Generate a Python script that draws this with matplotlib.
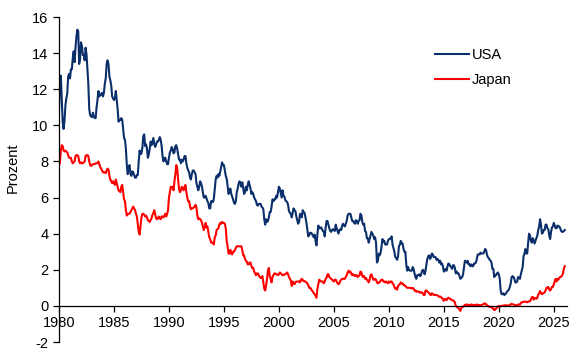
import matplotlib
matplotlib.use("Agg")
import matplotlib.pyplot as plt
import numpy as np

plt.rcParams['font.family'] = ['Liberation Sans', 'DejaVu Sans']
plt.rcParams['axes.unicode_minus'] = False

start_year = 1980
series_labels = ["USA", "Japan"]
x_ticks = [1980, 1985, 1990, 1995, 2000, 2005, 2010, 2015, 2020, 2025]
y_ticks = [-2, 0, 2, 4, 6, 8, 10, 12, 14, 16]
y_label = "Prozent"

# Monthly 10y yields, Jan 1980 .. Jan 2026
usa = [
    10.8, 12.4, 12.75, 11.5, 10.2, 9.8, 10.25, 11.1, 11.5, 11.75, 12.7, 12.85,
    12.6, 13.1, 13.1, 13.7, 14.1, 13.5, 14.3, 14.9, 15.3, 15.2, 13.4, 13.7,
    14.6, 14.4, 13.9, 13.9, 13.6, 14.3, 13.95, 13.1, 12.3, 10.9, 10.55, 10.5,
    10.45, 10.7, 10.5, 10.4, 10.4, 11.0, 11.4, 11.9, 11.6, 11.7, 11.7, 11.8,
    11.6, 11.8, 12.3, 12.6, 13.4, 13.6, 13.4, 12.7, 12.5, 12.2, 11.6, 11.5,
    11.4, 11.5, 11.9, 11.4, 10.9, 10.2, 10.3, 10.3, 10.4, 10.3, 9.8, 9.3,
    9.2, 8.7, 7.8, 7.3, 7.7, 7.8, 7.3, 7.2, 7.45, 7.4, 7.25, 7.1,
    7.1, 7.25, 7.25, 8.0, 8.6, 8.4, 8.45, 8.75, 9.4, 9.5, 8.85, 8.95,
    8.7, 8.2, 8.4, 8.7, 9.1, 8.9, 9.1, 9.3, 8.95, 8.8, 8.95, 9.1,
    9.1, 9.2, 9.35, 9.2, 8.85, 8.3, 8.0, 8.2, 8.2, 8.0, 7.85, 7.85,
    8.2, 8.5, 8.6, 8.8, 8.7, 8.45, 8.5, 8.85, 8.9, 8.7, 8.4, 8.1,
    8.1, 7.9, 8.1, 8.0, 8.1, 8.3, 8.3, 7.9, 7.65, 7.5, 7.4, 7.1,
    7.0, 7.3, 7.5, 7.5, 7.4, 7.3, 6.8, 6.6, 6.4, 6.6, 6.9, 6.8,
    6.6, 6.3, 6.0, 6.0, 6.1, 5.95, 5.8, 5.7, 5.4, 5.4, 5.8, 5.8,
    5.75, 5.95, 6.5, 7.0, 7.2, 7.1, 7.3, 7.2, 7.45, 7.7, 7.95, 7.8,
    7.8, 7.5, 7.2, 7.05, 6.65, 6.2, 6.3, 6.5, 6.2, 6.05, 5.9, 5.7,
    5.65, 5.8, 6.3, 6.5, 6.75, 6.9, 6.8, 6.6, 6.85, 6.55, 6.2, 6.3,
    6.6, 6.4, 6.7, 6.9, 6.7, 6.5, 6.2, 6.3, 6.2, 6.0, 5.9, 5.8,
    5.6, 5.55, 5.65, 5.65, 5.65, 5.5, 5.45, 5.35, 4.8, 4.5, 4.8, 4.65,
    4.7, 4.9, 5.2, 5.2, 5.5, 5.9, 5.8, 5.9, 5.9, 6.1, 6.0, 6.3,
    6.6, 6.5, 6.25, 6.0, 6.4, 6.1, 6.05, 5.85, 5.8, 5.75, 5.6, 5.25,
    5.15, 5.1, 4.9, 5.15, 5.4, 5.3, 5.25, 4.95, 4.75, 4.55, 4.65, 5.1,
    5.05, 4.9, 5.3, 5.2, 5.15, 4.9, 4.6, 4.25, 3.85, 3.9, 4.05, 4.05,
    4.0, 3.9, 3.8, 3.95, 3.6, 3.35, 3.95, 4.45, 4.3, 4.3, 4.35, 4.25,
    4.15, 4.1, 3.85, 4.35, 4.7, 4.7, 4.5, 4.3, 4.15, 4.1, 4.2, 4.25,
    4.2, 4.15, 4.5, 4.3, 4.15, 4.0, 4.2, 4.25, 4.2, 4.45, 4.55, 4.45,
    4.4, 4.55, 4.7, 5.0, 5.1, 5.1, 5.1, 4.9, 4.7, 4.7, 4.6, 4.55,
    4.75, 4.7, 4.55, 4.7, 4.75, 5.1, 5.0, 4.65, 4.5, 4.55, 4.15, 4.1,
    3.75, 3.75, 3.5, 3.7, 3.9, 4.1, 4.0, 3.9, 3.7, 3.8, 3.5, 2.4,
    2.5, 2.9, 2.8, 2.95, 3.3, 3.7, 3.55, 3.6, 3.4, 3.4, 3.4, 3.6,
    3.7, 3.7, 3.75, 3.85, 3.4, 3.2, 3.0, 2.7, 2.65, 2.55, 2.75, 3.3,
    3.4, 3.6, 3.45, 3.45, 3.15, 3.0, 3.0, 2.3, 1.95, 2.15, 2.0, 1.95,
    1.95, 1.95, 2.15, 2.05, 1.8, 1.6, 1.5, 1.7, 1.7, 1.75, 1.65, 1.7,
    1.9, 2.0, 1.95, 1.75, 1.95, 2.3, 2.6, 2.75, 2.8, 2.6, 2.7, 2.9,
    2.85, 2.7, 2.7, 2.7, 2.55, 2.6, 2.55, 2.4, 2.5, 2.3, 2.35, 2.2,
    1.9, 1.95, 2.05, 1.95, 2.2, 2.35, 2.3, 2.2, 2.15, 2.05, 2.25, 2.25,
    2.1, 1.8, 1.9, 1.8, 1.8, 1.65, 1.5, 1.55, 1.6, 1.75, 2.15, 2.5,
    2.45, 2.4, 2.5, 2.3, 2.3, 2.2, 2.3, 2.2, 2.2, 2.35, 2.35, 2.4,
    2.6, 2.85, 2.85, 2.85, 2.95, 2.9, 2.9, 2.9, 3.0, 3.15, 3.1, 2.85,
    2.7, 2.65, 2.55, 2.5, 2.4, 2.05, 2.05, 1.6, 1.7, 1.7, 1.8, 1.85,
    1.75, 1.5, 0.85, 0.65, 0.65, 0.7, 0.6, 0.65, 0.7, 0.8, 0.85, 0.9,
    1.05, 1.25, 1.6, 1.65, 1.6, 1.5, 1.3, 1.3, 1.35, 1.6, 1.55, 1.5,
    1.75, 1.95, 2.15, 2.75, 2.9, 3.15, 2.9, 2.9, 3.5, 4.0, 3.9, 3.6,
    3.5, 3.75, 3.65, 3.45, 3.6, 3.75, 3.9, 4.2, 4.4, 4.8, 4.5, 4.0,
    4.05, 4.2, 4.2, 4.5, 4.5, 4.3, 4.25, 3.9, 3.7, 4.1, 4.35, 4.4,
    4.6, 4.45, 4.3, 4.3, 4.45, 4.4, 4.4, 4.3, 4.15, 4.1, 4.1, 4.15,
    4.2,
]

japan = [
    7.8, 7.9, 8.6, 8.9, 8.85, 8.6, 8.55, 8.6, 8.55, 8.5, 8.35, 8.2,
    8.2, 8.2, 8.0, 7.9, 7.95, 8.0, 8.3, 8.35, 8.35, 8.3, 8.0, 7.9,
    7.95, 7.9, 7.9, 7.95, 8.0, 8.3, 8.35, 8.35, 8.3, 8.0, 7.8, 7.75,
    7.8, 7.85, 7.85, 7.85, 7.9, 7.9, 7.9, 8.0, 7.85, 7.7, 7.6, 7.5,
    7.4, 7.4, 7.4, 7.35, 7.5, 7.6, 7.55, 7.2, 7.0, 6.9, 6.8, 6.9,
    6.8, 6.7, 7.0, 6.8, 6.6, 6.4, 6.35, 6.3, 6.6, 6.7, 6.3, 5.9,
    5.8, 5.3, 5.0, 5.1, 5.1, 5.1, 5.2, 5.3, 5.4, 5.5, 5.4, 5.3,
    5.1, 4.95, 4.5, 4.1, 3.95, 4.4, 4.9, 5.1, 5.1, 5.05, 4.95, 5.0,
    4.9, 4.75, 4.7, 4.65, 4.75, 4.85, 5.05, 5.15, 5.3, 5.05, 4.85, 4.8,
    4.85, 4.95, 4.85, 4.8, 4.95, 4.95, 4.9, 5.0, 5.1, 4.95, 5.1, 5.3,
    6.0, 6.3, 6.6, 6.55, 6.6, 6.4, 6.9, 7.3, 7.8, 7.6, 7.0, 6.5,
    6.3, 6.4, 6.6, 6.5, 6.4, 6.6, 6.7, 6.3, 6.0, 5.8, 5.8, 5.5,
    5.35, 5.4, 5.4, 5.45, 5.5, 5.6, 5.45, 5.0, 4.8, 4.85, 4.8, 4.75,
    4.6, 4.4, 4.2, 4.35, 4.6, 4.35, 4.4, 4.1, 3.8, 3.7, 3.5, 3.5,
    3.5, 3.4, 3.8, 3.9, 4.2, 4.25, 4.3, 4.5, 4.6, 4.55, 4.65, 4.6,
    4.6, 4.55, 4.3, 3.6, 3.3, 2.9, 2.9, 3.1, 2.9, 2.85, 3.0, 3.0,
    3.1, 3.2, 3.3, 3.3, 3.3, 3.3, 3.3, 3.3, 3.1, 2.8, 2.8, 2.6,
    2.5, 2.45, 2.3, 2.3, 2.4, 2.4, 2.2, 2.1, 2.1, 1.9, 1.8, 1.7,
    1.8, 1.8, 1.7, 1.6, 1.55, 1.55, 1.65, 1.3, 0.95, 0.85, 1.1, 1.5,
    1.95, 2.1, 1.65, 1.5, 1.3, 1.6, 1.7, 1.8, 1.8, 1.75, 1.75, 1.7,
    1.75, 1.85, 1.8, 1.75, 1.7, 1.7, 1.75, 1.75, 1.8, 1.85, 1.75, 1.6,
    1.5, 1.4, 1.1, 1.35, 1.25, 1.2, 1.3, 1.35, 1.35, 1.35, 1.35, 1.3,
    1.45, 1.5, 1.4, 1.4, 1.35, 1.35, 1.3, 1.25, 1.15, 1.0, 1.0, 0.95,
    0.85, 0.8, 0.7, 0.65, 0.55, 0.45, 0.95, 1.2, 1.45, 1.4, 1.35, 1.35,
    1.35, 1.25, 1.35, 1.5, 1.55, 1.75, 1.75, 1.6, 1.55, 1.5, 1.45, 1.4,
    1.35, 1.45, 1.45, 1.35, 1.25, 1.2, 1.25, 1.4, 1.45, 1.5, 1.5, 1.5,
    1.5, 1.6, 1.7, 1.85, 1.95, 1.85, 1.9, 1.8, 1.7, 1.75, 1.7, 1.65,
    1.7, 1.7, 1.6, 1.65, 1.7, 1.9, 1.85, 1.65, 1.6, 1.65, 1.5, 1.55,
    1.45, 1.4, 1.3, 1.45, 1.7, 1.75, 1.6, 1.45, 1.45, 1.5, 1.45, 1.3,
    1.25, 1.3, 1.3, 1.4, 1.45, 1.45, 1.35, 1.35, 1.3, 1.35, 1.3, 1.25,
    1.35, 1.3, 1.35, 1.35, 1.25, 1.2, 1.05, 0.95, 1.0, 0.9, 1.1, 1.15,
    1.2, 1.3, 1.25, 1.25, 1.15, 1.15, 1.1, 1.05, 1.0, 1.0, 1.0, 1.0,
    0.98, 0.97, 1.0, 0.95, 0.85, 0.85, 0.78, 0.8, 0.8, 0.78, 0.73, 0.75,
    0.75, 0.7, 0.6, 0.6, 0.85, 0.85, 0.8, 0.75, 0.7, 0.62, 0.6, 0.7,
    0.65, 0.6, 0.62, 0.6, 0.6, 0.58, 0.54, 0.5, 0.52, 0.47, 0.45, 0.35,
    0.28, 0.38, 0.38, 0.32, 0.4, 0.45, 0.42, 0.38, 0.35, 0.31, 0.31, 0.27,
    0.2, 0.0, -0.05, -0.1, -0.12, -0.2, -0.28, -0.1, -0.05, -0.05, 0.0, 0.05,
    0.06, 0.08, 0.07, 0.01, 0.04, 0.06, 0.08, 0.05, 0.04, 0.06, 0.04, 0.05,
    0.08, 0.06, 0.04, 0.05, 0.04, 0.03, 0.06, 0.1, 0.12, 0.14, 0.1, 0.03,
    0.0, -0.03, -0.06, -0.05, -0.07, -0.13, -0.14, -0.24, -0.2, -0.15, -0.08, -0.02,
    -0.02, -0.05, 0.0, 0.0, 0.0, 0.02, 0.03, 0.04, 0.02, 0.03, 0.02, 0.02,
    0.04, 0.1, 0.1, 0.09, 0.08, 0.06, 0.03, 0.02, 0.04, 0.08, 0.07, 0.06,
    0.15, 0.2, 0.2, 0.23, 0.24, 0.23, 0.22, 0.2, 0.24, 0.25, 0.25, 0.35,
    0.48, 0.5, 0.35, 0.45, 0.42, 0.4, 0.45, 0.62, 0.7, 0.82, 0.72, 0.65,
    0.68, 0.72, 0.74, 0.86, 1.0, 1.02, 1.05, 0.9, 0.85, 0.93, 1.05, 1.05,
    1.2, 1.35, 1.5, 1.35, 1.5, 1.45, 1.55, 1.6, 1.62, 1.68, 1.8, 2.05,
    2.2,
]

t_us = start_year + np.arange(len(usa)) / 12.0
t_jp = start_year + np.arange(len(japan)) / 12.0

fig = plt.figure(figsize=(5.86, 3.53), dpi=100)
ax = fig.add_axes([59 / 586, 1 - 342 / 353, (567 - 59) / 586, (342 - 17) / 353])

ax.plot(t_us, usa, color="#0b2f6b", lw=1.5, label=series_labels[0])
ax.plot(t_jp, japan, color="#ff0000", lw=1.5, label=series_labels[1])

ax.set_xlim(1980, 2026.2)
ax.set_ylim(-2, 16)
ax.set_xticks(x_ticks)
ax.set_yticks(y_ticks)
ax.set_xticklabels([str(v) for v in x_ticks])
ax.set_yticklabels([str(v) for v in y_ticks])

ax.spines['top'].set_visible(False)
ax.spines['right'].set_visible(False)
ax.spines['bottom'].set_position(('data', 0))
ax.spines['bottom'].set_linewidth(0.9)
ax.spines['left'].set_linewidth(0.9)
ax.tick_params(axis='both', direction='out', length=4, width=0.9, labelsize=10.5, colors='black')
ax.tick_params(axis='x', pad=3)
ax.set_ylabel(y_label, fontsize=10.5)
ax.yaxis.set_label_coords(-0.077, 0.535)

ax.legend(loc='upper left', bbox_to_anchor=(0.715, 0.945), frameon=False, fontsize=10.5,
          handlelength=2.3, handletextpad=0.2, labelspacing=0.75)

fig.savefig("out.png", dpi=100)
